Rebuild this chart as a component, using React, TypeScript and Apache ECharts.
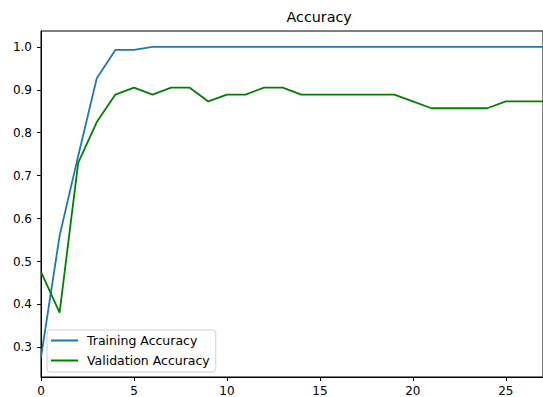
import React, { useEffect, useRef } from "react";
import * as echarts from "echarts";

const epochs = [0, 1, 2, 3, 4, 5, 6, 7, 8, 9, 10, 11, 12, 13, 14, 15, 16, 17, 18, 19, 20, 21, 22, 23, 24, 25, 26, 27];
const trainingAccuracy = [0.277, 0.56, 0.746, 0.927, 0.993, 0.993, 1.0, 1.0, 1.0, 1.0, 1.0, 1.0, 1.0, 1.0, 1.0, 1.0, 1.0, 1.0, 1.0, 1.0, 1.0, 1.0, 1.0, 1.0, 1.0, 1.0, 1.0, 1.0];
const validationAccuracy = [0.476, 0.381, 0.73, 0.825, 0.889, 0.905, 0.889, 0.905, 0.905, 0.873, 0.889, 0.889, 0.905, 0.905, 0.889, 0.889, 0.889, 0.889, 0.889, 0.889, 0.873, 0.857, 0.857, 0.857, 0.857, 0.873, 0.873, 0.873];
const yTicks = [0.3, 0.4, 0.5, 0.6, 0.7, 0.8, 0.9, 1.0];
const xTicks = [0, 5, 10, 15, 20, 25];

const FONT = "DejaVu Sans";

export default function App() {
  const ref = useRef<HTMLDivElement>(null);
  useEffect(() => {
    if (!ref.current) return;
    const chart = echarts.init(ref.current, undefined, { renderer: "svg" });
    chart.setOption({
      animation: false,
      backgroundColor: "#ffffff",
      title: {
        text: "Accuracy",
        left: 286.5,
        top: 10,
        padding: 0,
        textStyle: { fontFamily: FONT, fontSize: 14.3, fontWeight: "normal", color: "#000" },
      },
      grid: {
        left: 41,
        top: 31,
        right: -2,
        bottom: 19,
        show: true,
        borderColor: "#000",
        borderWidth: 1,
        backgroundColor: "transparent",
      },
      legend: {
        orient: "vertical",
        left: 47,
        top: 330,
        padding: [4, 6, 5, 4],
        itemGap: 7,
        itemWidth: 27,
        itemHeight: 2,
        icon: "rect",
        backgroundColor: "#fff",
        borderColor: "#d0d0d0",
        borderWidth: 1,
        borderRadius: 3,
        textStyle: { fontFamily: FONT, fontSize: 12.5, color: "#000", padding: [0, 0, 0, 4] },
        data: ["Training Accuracy", "Validation Accuracy"],
      },
      xAxis: {
        type: "value",
        min: 0,
        max: 27,
        splitLine: { show: false },
        axisLine: { show: true, onZero: false, lineStyle: { color: "#000", width: 1 } },
        axisTick: { show: true, length: 4, customValues: xTicks, lineStyle: { color: "#000" } },
        axisLabel: {
          customValues: xTicks,
          margin: 8,
          fontFamily: FONT,
          fontSize: 12,
          color: "#000",
        },
      },
      yAxis: {
        type: "value",
        min: 0.231,
        max: 1.037,
        splitLine: { show: false },
        axisLine: { show: true, onZero: false, lineStyle: { color: "#000", width: 1 } },
        axisTick: { show: true, length: 4, customValues: yTicks, lineStyle: { color: "#000" } },
        axisLabel: {
          customValues: yTicks,
          margin: 9,
          fontFamily: FONT,
          fontSize: 12,
          color: "#000",
          formatter: (v: number) => v.toFixed(1),
        },
      },
      series: [
        {
          name: "Training Accuracy",
          type: "line",
          data: epochs.map((e, i) => [e, trainingAccuracy[i]]),
          showSymbol: false,
          symbol: "none",
          color: "#1f77b4",
          lineStyle: { width: 1.8, color: "#1f77b4" },
        },
        {
          name: "Validation Accuracy",
          type: "line",
          data: epochs.map((e, i) => [e, validationAccuracy[i]]),
          showSymbol: false,
          symbol: "none",
          color: "#008000",
          lineStyle: { width: 1.8, color: "#008000" },
        },
      ],
    });
    return () => chart.dispose();
  }, []);
  return (
    <div
      ref={ref}
      style={{ position: "fixed", left: 0, top: 0, width: 543, height: 397, background: "#fff" }}
    />
  );
}
